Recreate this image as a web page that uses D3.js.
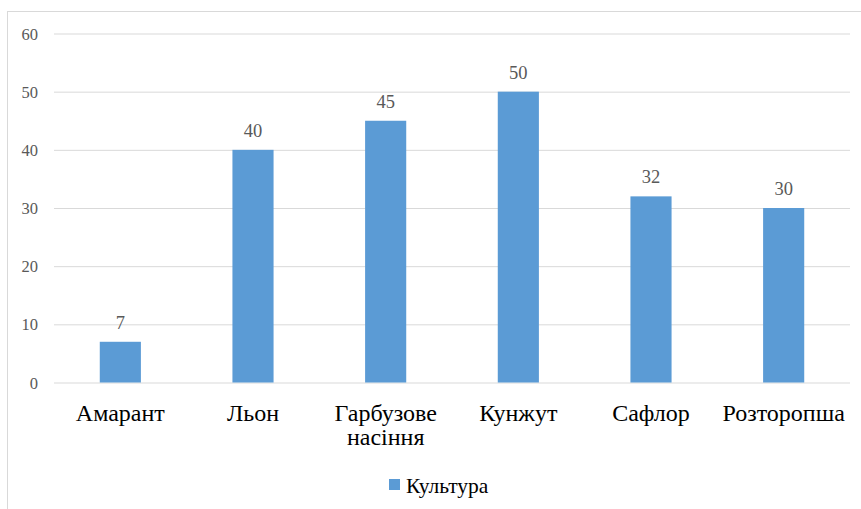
<!DOCTYPE html>
<html><head><meta charset="utf-8">
<script src="https://cdn.jsdelivr.net/npm/d3@7"></script>
</head><body style="margin:0">
<svg id="c" width="861" height="509" style="display:block"></svg>
<script>
const categories = [["Амарант"], ["Льон"], ["Гарбузове", "насіння"], ["Кунжут"], ["Сафлор"], ["Розторопша"]];
const values = [7, 40, 45, 50, 32, 30];
const yTicks = [0, 10, 20, 30, 40, 50, 60];
const seriesName = "Культура";

const FF = '"Liberation Serif", Tinos, "Times New Roman", Times, serif';
const svg = d3.select("#c");
svg.append("rect").attr("x", 7.5).attr("y", 11.5).attr("width", 1000).attr("height", 1000)
  .attr("fill", "#fff").attr("stroke", "#d9d9d9");

const pLeft = 54, pRight = 850, pTop = 33.5, pBottom = 382.5;
const ids = categories.map((c, i) => i);
const x = d3.scaleBand().domain(ids).range([pLeft, pRight]).paddingInner(0.69).paddingOuter(0.345);
const y = d3.scaleLinear().domain([0, 60]).range([pBottom, pTop]);

const yAxis = svg.append("g").attr("transform", `translate(${pLeft},0)`)
  .call(d3.axisLeft(y).tickValues(yTicks).tickSize(-(pRight - pLeft)).tickPadding(16).tickFormat(d3.format("d")));
yAxis.attr("font-family", null).attr("font-size", null);
yAxis.select(".domain").remove();
yAxis.selectAll(".tick line").attr("stroke", "#d9d9d9").attr("stroke-width", 1);
yAxis.selectAll(".tick text").attr("fill", "#595959").attr("dy", "0.34em")
  .style("font-family", FF).style("font-size", "16.5px");

svg.append("g").selectAll("rect").data(values).join("rect")
  .attr("x", (d, i) => x(i)).attr("width", x.bandwidth())
  .attr("y", d => y(d)).attr("height", d => y(0) - y(d))
  .attr("fill", "#5b9bd5");

svg.append("g").selectAll("text").data(values).join("text")
  .attr("x", (d, i) => x(i) + x.bandwidth() / 2).attr("y", d => y(d) - 13)
  .attr("text-anchor", "middle").attr("fill", "#595959")
  .style("font-family", FF).style("font-size", "18.5px").text(d => d);

const labels = svg.append("g").selectAll("text").data(categories).join("text")
  .attr("x", (d, i) => x(i) + x.bandwidth() / 2).attr("y", 421)
  .attr("text-anchor", "middle").attr("fill", "#000")
  .style("font-family", FF).style("font-size", "24px");
labels.each(function(d, i) {
  d3.select(this).selectAll("tspan").data(d).join("tspan")
    .attr("x", x(i) + x.bandwidth() / 2).attr("dy", (t, j) => j === 0 ? 0 : 24).text(t => t);
});

const lg = svg.append("g");
lg.append("rect").attr("x", 389).attr("y", 479).attr("width", 11).attr("height", 11).attr("fill", "#5b9bd5");
lg.append("text").attr("x", 406).attr("y", 493).attr("fill", "#000")
  .style("font-family", FF).style("font-size", "21.5px").text(seriesName);
</script>
</body></html>
